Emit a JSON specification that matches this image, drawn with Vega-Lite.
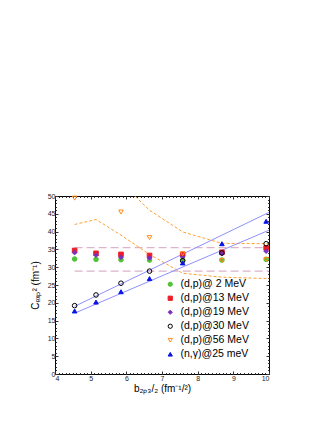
{
  "$schema": "https://vega.github.io/schema/vega-lite/v6.json",
  "width": 214,
  "height": 178,
  "autosize": "none",
  "padding": {"left": 55, "top": 196, "right": 58, "bottom": 49},
  "config": {
    "font": "Liberation Sans",
    "view": {"stroke": "#000", "strokeWidth": 1},
    "axis": {
      "grid": false,
      "domain": false,
      "labelFont": "Liberation Sans",
      "labelFontSize": 7,
      "labelColor": "#222",
      "tickColor": "#333",
      "titleFont": "Liberation Sans",
      "titleFontSize": 10,
      "titleFontWeight": "normal",
      "titleColor": "#000"
    }
  },
  "datasets": {
    "pts": [
      {"x": 4.55, "y": 32.3, "s": "(d,p)@ 2 MeV"},
      {"x": 5.15, "y": 32.2, "s": "(d,p)@ 2 MeV"},
      {"x": 5.85, "y": 32.1, "s": "(d,p)@ 2 MeV"},
      {"x": 6.65, "y": 32.0, "s": "(d,p)@ 2 MeV"},
      {"x": 7.58, "y": 32.0, "s": "(d,p)@ 2 MeV"},
      {"x": 8.68, "y": 32.0, "s": "(d,p)@ 2 MeV"},
      {"x": 9.92, "y": 32.2, "s": "(d,p)@ 2 MeV"},
      {"x": 4.55, "y": 34.7, "s": "(d,p)@13 MeV"},
      {"x": 5.15, "y": 33.9, "s": "(d,p)@13 MeV"},
      {"x": 5.85, "y": 33.6, "s": "(d,p)@13 MeV"},
      {"x": 6.65, "y": 33.3, "s": "(d,p)@13 MeV"},
      {"x": 7.58, "y": 33.6, "s": "(d,p)@13 MeV"},
      {"x": 8.68, "y": 34.2, "s": "(d,p)@13 MeV"},
      {"x": 9.92, "y": 35.4, "s": "(d,p)@13 MeV"},
      {"x": 4.55, "y": 34.1, "s": "(d,p)@19 MeV"},
      {"x": 5.15, "y": 33.4, "s": "(d,p)@19 MeV"},
      {"x": 5.85, "y": 32.8, "s": "(d,p)@19 MeV"},
      {"x": 6.65, "y": 32.6, "s": "(d,p)@19 MeV"},
      {"x": 7.58, "y": 32.9, "s": "(d,p)@19 MeV"},
      {"x": 8.68, "y": 33.8, "s": "(d,p)@19 MeV"},
      {"x": 9.92, "y": 34.5, "s": "(d,p)@19 MeV"},
      {"x": 4.55, "y": 19.2, "s": "(d,p)@30 MeV"},
      {"x": 5.15, "y": 22.2, "s": "(d,p)@30 MeV"},
      {"x": 5.85, "y": 25.5, "s": "(d,p)@30 MeV"},
      {"x": 6.65, "y": 28.9, "s": "(d,p)@30 MeV"},
      {"x": 7.58, "y": 31.8, "s": "(d,p)@30 MeV"},
      {"x": 8.68, "y": 34.0, "s": "(d,p)@30 MeV"},
      {"x": 9.92, "y": 36.6, "s": "(d,p)@30 MeV"},
      {"x": 4.55, "y": 49.4, "s": "(d,p)@56 MeV"},
      {"x": 5.85, "y": 45.5, "s": "(d,p)@56 MeV"},
      {"x": 6.65, "y": 38.3, "s": "(d,p)@56 MeV"},
      {"x": 7.58, "y": 33.8, "s": "(d,p)@56 MeV"},
      {"x": 8.68, "y": 31.9, "s": "(d,p)@56 MeV"},
      {"x": 9.92, "y": 32.2, "s": "(d,p)@56 MeV"},
      {"x": 4.55, "y": 17.7, "s": "(n,γ)@25 meV"},
      {"x": 5.15, "y": 20.2, "s": "(n,γ)@25 meV"},
      {"x": 5.85, "y": 23.1, "s": "(n,γ)@25 meV"},
      {"x": 6.65, "y": 26.8, "s": "(n,γ)@25 meV"},
      {"x": 7.58, "y": 31.2, "s": "(n,γ)@25 meV"},
      {"x": 8.68, "y": 36.6, "s": "(n,γ)@25 meV"},
      {"x": 9.92, "y": 42.9, "s": "(n,γ)@25 meV"}
    ],
    "hlines": [
      {"g": "a", "x": 4.55, "y": 35.5},
      {"g": "a", "x": 10, "y": 35.5},
      {"g": "b", "x": 4.55, "y": 28.9},
      {"g": "b", "x": 10, "y": 28.9}
    ],
    "orange": [
      {"g": "A", "x": 4.55, "y": 42.0},
      {"g": "A", "x": 5.15, "y": 43.4},
      {"g": "A", "x": 5.85, "y": 39.0},
      {"g": "A", "x": 6.65, "y": 33.6},
      {"g": "A", "x": 7.58, "y": 28.3},
      {"g": "A", "x": 8.68, "y": 27.2},
      {"g": "A", "x": 10, "y": 26.8},
      {"g": "B", "x": 5.85, "y": 53.8},
      {"g": "B", "x": 6.65, "y": 46.0},
      {"g": "B", "x": 7.58, "y": 39.9},
      {"g": "B", "x": 8.68, "y": 36.7},
      {"g": "B", "x": 10, "y": 36.6}
    ],
    "blue": [
      {"g": "U", "x": 4.55, "y": 19.0},
      {"g": "U", "x": 10, "y": 45.4},
      {"g": "L", "x": 4.6, "y": 17.3},
      {"g": "L", "x": 10, "y": 40.4}
    ]
  },
  "layer": [
    {
      "data": {"name": "hlines"},
      "mark": {"type": "line", "color": "#dcb4cc", "strokeDash": [8, 4], "strokeWidth": 1.2},
      "encoding": {
        "x": {"field": "x", "type": "quantitative", "scale": {"domain": [4, 10], "nice": false, "zero": false},
          "axis": {"orient": "bottom", "values": [4, 5, 6, 7, 8, 9, 10], "tickSize": -3, "labelPadding": 3, "title": "b₂ₚ₃/₂ (fm⁻¹/²)", "titlePadding": 2}},
        "y": {"field": "y", "type": "quantitative", "scale": {"domain": [0, 50], "nice": false, "zero": false},
          "axis": {"orient": "left", "values": [0, 5, 10, 15, 20, 25, 30, 35, 40, 45, 50], "tickSize": -3, "labelPadding": 3, "title": "Cₑₓₚ² (fm⁻¹)", "titlePadding": 7}},
        "detail": {"field": "g"}
      }
    },
    {
      "data": {"name": "orange"},
      "mark": {"type": "line", "color": "#ffa033", "strokeDash": [3, 2], "strokeWidth": 1, "clip": true},
      "encoding": {
        "x": {"field": "x", "type": "quantitative",
          "axis": {"orient": "top", "values": [4, 5, 6, 7, 8, 9, 10], "tickSize": -3, "labels": false, "title": null}},
        "y": {"field": "y", "type": "quantitative",
          "axis": {"orient": "right", "values": [0, 5, 10, 15, 20, 25, 30, 35, 40, 45, 50], "tickSize": -3, "labels": false, "title": null}},
        "detail": {"field": "g"}
      }
    },
    {
      "data": {"name": "blue"},
      "mark": {"type": "line", "color": "#9090ff", "strokeWidth": 1},
      "encoding": {
        "x": {"field": "x", "type": "quantitative",
          "axis": {"orient": "bottom", "values": [4, 4.1, 4.2, 4.3, 4.4, 4.5, 4.6, 4.7, 4.8, 4.9, 5, 5.1, 5.2, 5.3, 5.4, 5.5, 5.6, 5.7, 5.8, 5.9, 6, 6.1, 6.2, 6.3, 6.4, 6.5, 6.6, 6.7, 6.8, 6.9, 7, 7.1, 7.2, 7.3, 7.4, 7.5, 7.6, 7.7, 7.8, 7.9, 8, 8.1, 8.2, 8.3, 8.4, 8.5, 8.6, 8.7, 8.8, 8.9, 9, 9.1, 9.2, 9.3, 9.4, 9.5, 9.6, 9.7, 9.8, 9.9, 10], "tickSize": -1.5, "labels": false, "title": null}},
        "y": {"field": "y", "type": "quantitative",
          "axis": {"orient": "left", "values": [0, 1, 2, 3, 4, 5, 6, 7, 8, 9, 10, 11, 12, 13, 14, 15, 16, 17, 18, 19, 20, 21, 22, 23, 24, 25, 26, 27, 28, 29, 30, 31, 32, 33, 34, 35, 36, 37, 38, 39, 40, 41, 42, 43, 44, 45, 46, 47, 48, 49, 50], "tickSize": -1.5, "labels": false, "title": null}},
        "detail": {"field": "g"}
      }
    },
    {
      "data": {"name": "pts"},
      "mark": {"type": "point", "size": 21, "strokeWidth": 1, "opacity": 1},
      "encoding": {
        "x": {"field": "x", "type": "quantitative",
          "axis": {"orient": "top", "values": [4, 4.1, 4.2, 4.3, 4.4, 4.5, 4.6, 4.7, 4.8, 4.9, 5, 5.1, 5.2, 5.3, 5.4, 5.5, 5.6, 5.7, 5.8, 5.9, 6, 6.1, 6.2, 6.3, 6.4, 6.5, 6.6, 6.7, 6.8, 6.9, 7, 7.1, 7.2, 7.3, 7.4, 7.5, 7.6, 7.7, 7.8, 7.9, 8, 8.1, 8.2, 8.3, 8.4, 8.5, 8.6, 8.7, 8.8, 8.9, 9, 9.1, 9.2, 9.3, 9.4, 9.5, 9.6, 9.7, 9.8, 9.9, 10], "tickSize": -1.5, "labels": false, "title": null}},
        "y": {"field": "y", "type": "quantitative",
          "axis": {"orient": "right", "values": [0, 1, 2, 3, 4, 5, 6, 7, 8, 9, 10, 11, 12, 13, 14, 15, 16, 17, 18, 19, 20, 21, 22, 23, 24, 25, 26, 27, 28, 29, 30, 31, 32, 33, 34, 35, 36, 37, 38, 39, 40, 41, 42, 43, 44, 45, 46, 47, 48, 49, 50], "tickSize": -1.5, "labels": false, "title": null}},
        "shape": {"field": "s", "type": "nominal",
          "scale": {"domain": ["(d,p)@ 2 MeV", "(d,p)@13 MeV", "(d,p)@19 MeV", "(d,p)@30 MeV", "(d,p)@56 MeV", "(n,γ)@25 meV"],
            "range": ["circle", "square", "diamond", "circle", "triangle-down", "triangle-up"]},
          "legend": {"orient": "none", "legendX": 110, "legendY": 83, "title": null, "labelFontSize": 10.5, "labelFont": "Liberation Sans", "labelColor": "#000", "symbolSize": 18, "symbolStrokeWidth": 1, "rowPadding": 3, "padding": 0, "labelOffset": 5}},
        "fill": {"field": "s", "type": "nominal",
          "scale": {"domain": ["(d,p)@ 2 MeV", "(d,p)@13 MeV", "(d,p)@19 MeV", "(d,p)@30 MeV", "(d,p)@56 MeV", "(n,γ)@25 meV"],
            "range": ["#4fc235", "#ee1c24", "#7b2fbe", "transparent", "transparent", "#0a14e6"]}},
        "stroke": {"field": "s", "type": "nominal",
          "scale": {"domain": ["(d,p)@ 2 MeV", "(d,p)@13 MeV", "(d,p)@19 MeV", "(d,p)@30 MeV", "(d,p)@56 MeV", "(n,γ)@25 meV"],
            "range": ["#4fc235", "#ee1c24", "#7b2fbe", "#000000", "#ff8c1a", "#0a14e6"]}}
      }
    }
  ],
  "resolve": {"axis": {"x": "independent", "y": "independent"}}
}
